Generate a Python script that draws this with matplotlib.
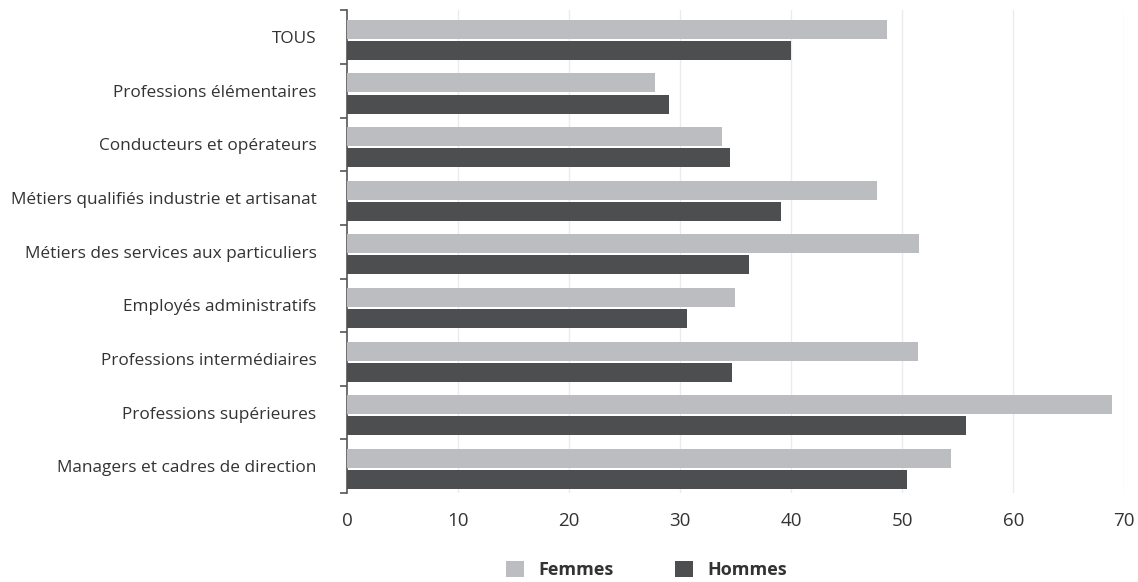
import numpy as np
import matplotlib
matplotlib.use("Agg")
import matplotlib.pyplot as plt

plt.rcParams['font.family'] = ['Open Sans', 'DejaVu Sans']

categories = [
    "TOUS",
    "Professions élémentaires",
    "Conducteurs et opérateurs",
    "Métiers qualifiés industrie et artisanat",
    "Métiers des services aux particuliers",
    "Employés administratifs",
    "Professions intermédiaires",
    "Professions supérieures",
    "Managers et cadres de direction",
]
femmes = [48.6, 27.7, 33.8, 47.7, 51.5, 34.9, 51.4, 68.9, 54.4]
hommes = [40.0, 29.0, 34.5, 39.1, 36.2, 30.6, 34.7, 55.7, 50.4]
xticks = [0, 10, 20, 30, 40, 50, 60, 70]

c_f = '#bcbdc0'
c_h = '#4d4e50'

fig = plt.figure(figsize=(11.38, 5.82), dpi=100)
ax = fig.add_axes([0.305, 0.153, 0.683, 0.829])

n = len(categories)
y = np.arange(n)
h = 0.355
off = 0.05  # bars sit a little below the band centre
ax.barh(y + off - h / 2 - 0.02, femmes, height=h, color=c_f, label='Femmes', zorder=3)
ax.barh(y + off + h / 2 + 0.02, hommes, height=h, color=c_h, label='Hommes', zorder=3)

ax.set_ylim(n - 0.5, -0.5)
ax.set_xlim(0, 70)

# gridlines
for v in xticks[1:]:
    ax.axvline(v, color='#ebebeb', lw=1.0, zorder=1)

ax.set_xticks(xticks)
ax.set_xticklabels([str(v) for v in xticks], fontsize=13.5, color='#333333')
ax.tick_params(axis='x', length=0, pad=14)

ax.set_yticks(y)
ax.set_yticklabels(categories, fontsize=12.4, color='#333333')
ax.tick_params(axis='y', which='major', length=0, pad=22)
ax.set_yticks(np.arange(-0.5, n, 1), minor=True)
ax.tick_params(axis='y', which='minor', length=5, width=1.2, color='#555555')

for s in ['top', 'right', 'bottom']:
    ax.spines[s].set_visible(False)
ax.spines['left'].set_color('#555555')
ax.spines['left'].set_linewidth(1.2)

leg = fig.legend(loc='center', bbox_to_anchor=(0.568, 0.021), ncol=2, frameon=False,
                 handlelength=1.0, handleheight=1.0, columnspacing=3.4, handletextpad=0.8,
                 prop={'size': 13, 'weight': 'bold'})
for t in leg.get_texts():
    t.set_color('#333333')

fig.savefig('out.png', dpi=100)
